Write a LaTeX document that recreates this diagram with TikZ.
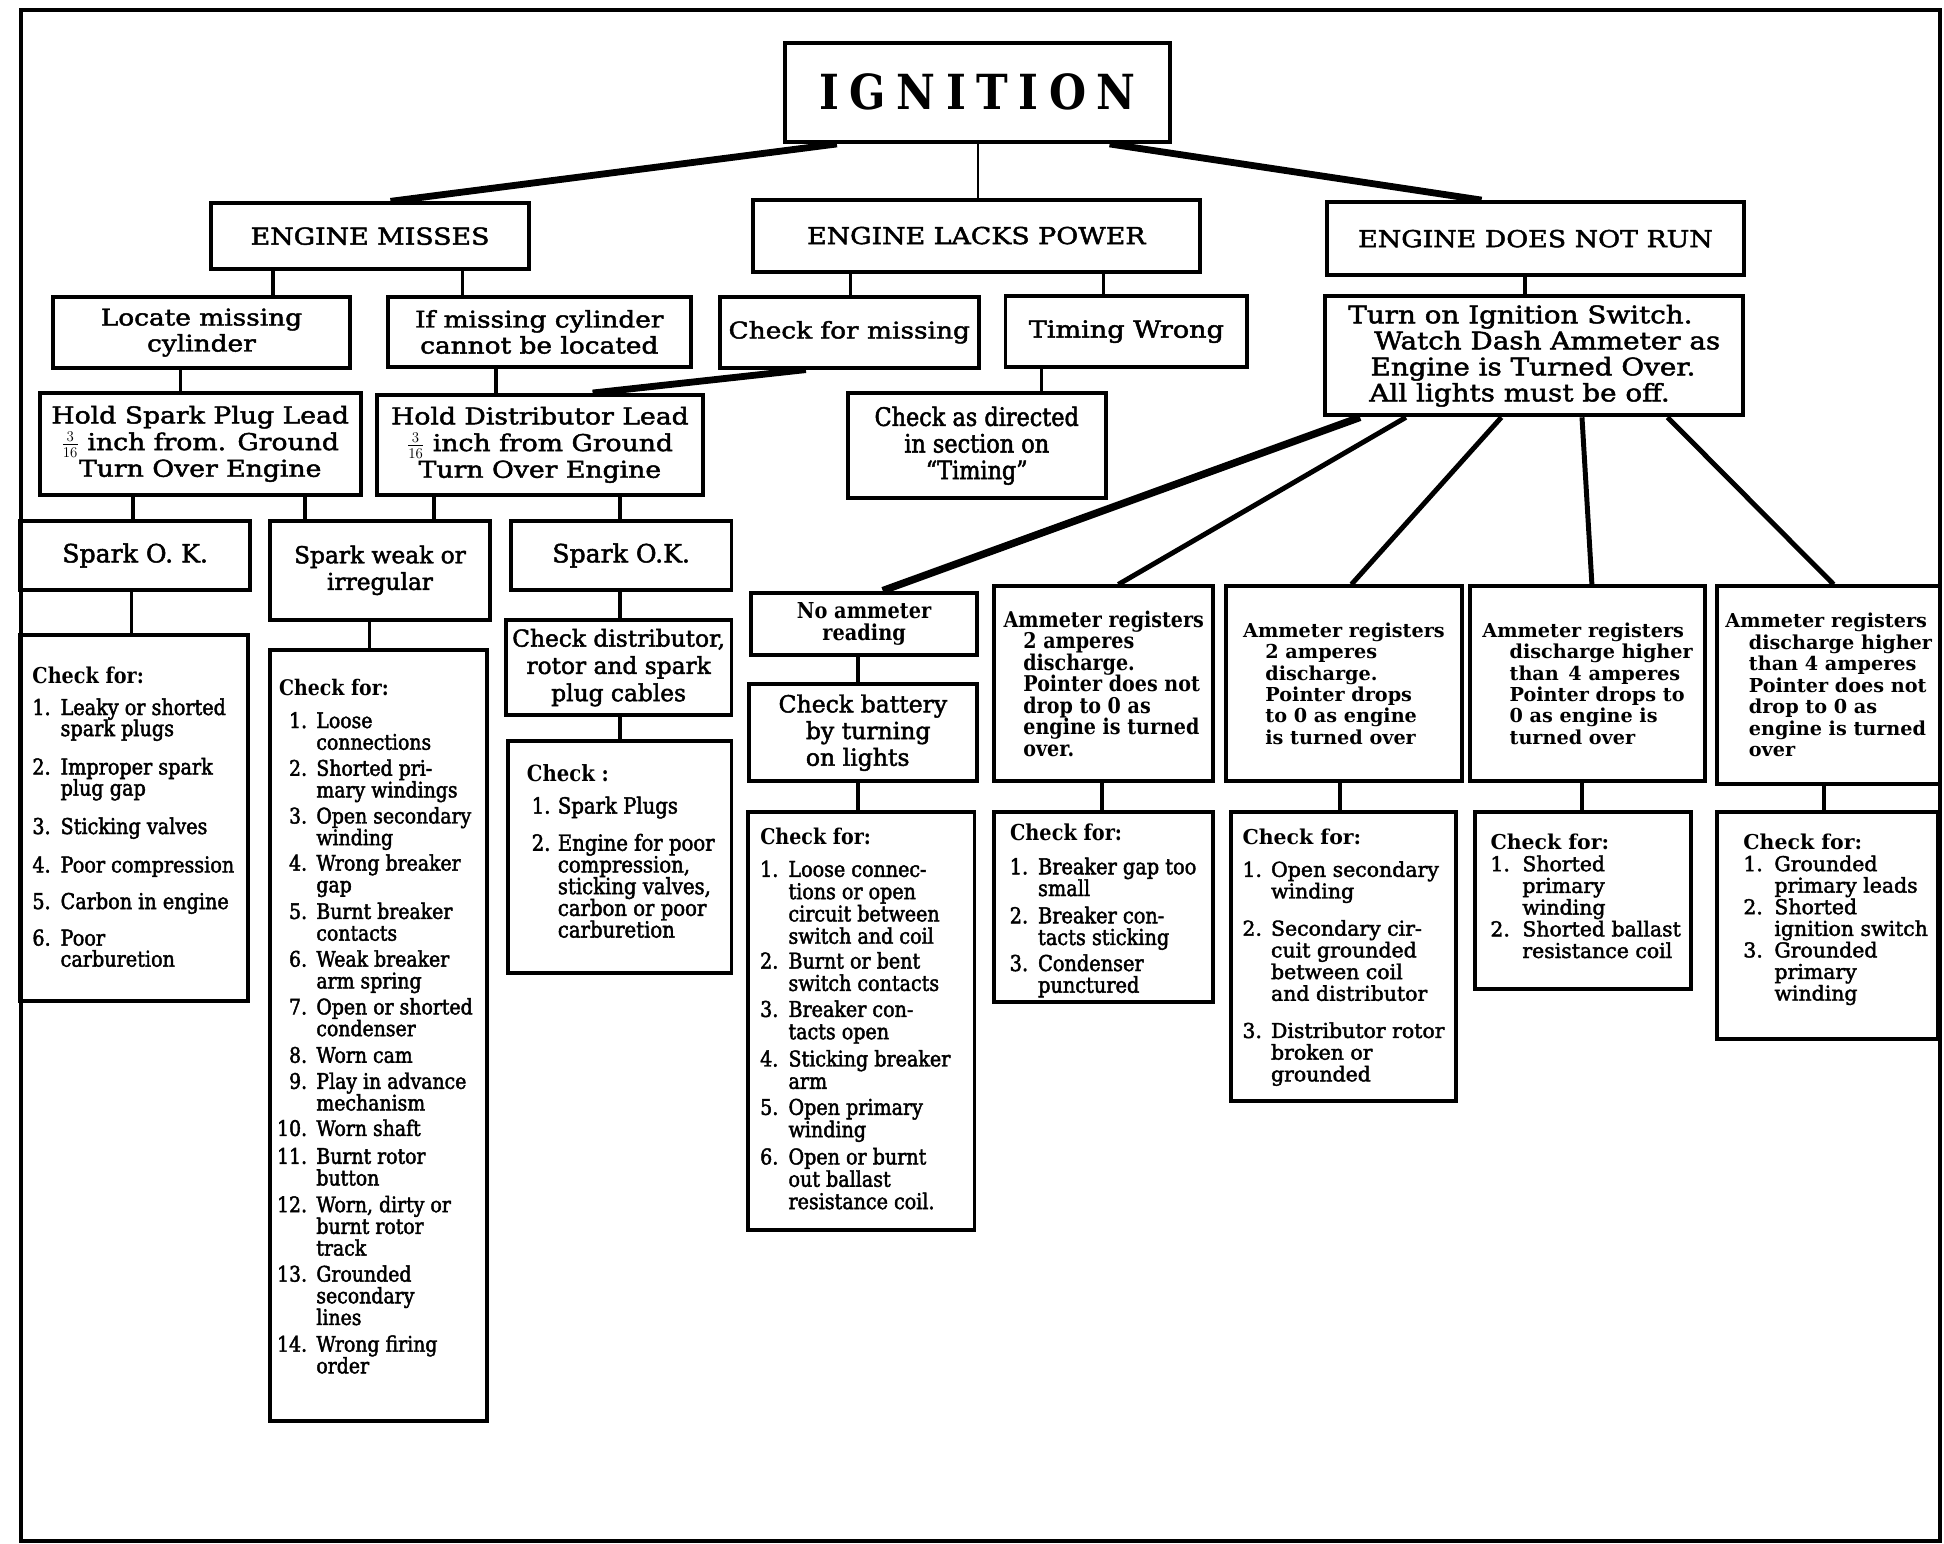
\documentclass[tikz,border=0pt]{standalone}
\usepackage{fontspec}
\setmainfont{DejaVu Serif}
\newfontfamily\fN[FakeStretch=0.88,UprightFeatures={FakeBold=2}]{DejaVu Serif}
\newfontfamily\fM[UprightFeatures={FakeBold=2}]{DejaVu Serif}
\newfontfamily\fW[FakeStretch=1.15,UprightFeatures={FakeBold=2}]{DejaVu Serif}
\newcommand\FS[2]{\fontsize{#1}{#2}\selectfont\lineskiplimit=-100pt\relax}
\newlength\numwd
\newlength\numgap
\newcommand\NN[1]{\makebox[\numwd][r]{#1}\hspace{\numgap}}
\newcommand\Cn{\hspace*{\dimexpr\numwd+\numgap\relax}}
\newcommand\topr{\rule{0pt}{14pt}}
\begin{document}
\begin{tikzpicture}[x=1pt,y=-1pt,
  bx/.style={draw, line width=3.2pt, inner sep=0pt, align=center},
  hd/.style={font=\fW\FS{18.8}{22}},
  lst/.style={anchor=north west, inner sep=0pt, align=left},
  cn/.style={line width=3pt},
  cnthick/.style={line width=5.5pt},
  cnthin/.style={line width=1.6pt}]
\fill[white] (0,0) rectangle (1568,1245);
\useasboundingbox (0,0) rectangle (1568,1245);
\draw[line width=3pt] (17,8) rectangle (1565,1243);

% ---------- level 0
\node[bx, minimum width=311pt, minimum height=80pt, font=\fN\bfseries\FS{39}{40}] (ign) at (788.5,74.5)
  {I\hspace{8.5pt}G\hspace{8.5pt}N\hspace{8.5pt}I\hspace{8.5pt}T\hspace{8.5pt}I\hspace{8.5pt}O\hspace{8.5pt}N};

% ---------- level 1
\node[bx, hd, minimum width=256pt, minimum height=53pt] (em) at (298.5,190.5) {ENGINE MISSES};
\node[bx, hd, minimum width=361pt, minimum height=58pt] (elp) at (787.5,190) {ENGINE LACKS POWER};
\node[bx, hd, minimum width=337pt, minimum height=59pt] (ednr) at (1238.5,192.5) {ENGINE DOES NOT RUN};

% ---------- level 2
\node[bx, minimum width=239pt, minimum height=57.5pt, font=\fW\FS{18.5}{21}] (loc) at (162.5,268.25) {Locate missing\\cylinder};
\node[bx, minimum width=244pt, minimum height=56.5pt, font=\fW\FS{18.5}{21}] (ifm) at (435,267.75) {If missing cylinder\\cannot be located};
\node[bx, minimum width=209pt, minimum height=57pt, font=\fW\FS{18.5}{21}] (cfm) at (685,268) {Check for missing};
\node[bx, minimum width=195pt, minimum height=57pt, font=\fW\FS{19}{21}] (tw) at (908.5,267.5) {Timing Wrong};
\node[bx, minimum width=337pt, minimum height=96pt, align=left, font=\fW\FS{19.5}{21}] (ton) at (1237.5,287)
  {Turn on Ignition Switch.\\
   \hspace*{21pt}Watch Dash Ammeter as\\
   \hspace*{18pt}Engine is Turned Over.\\
   \hspace*{17pt}All lights must be off.};

% ---------- level 3
\node[bx, minimum width=259pt, minimum height=82pt, font=\fW\FS{18.7}{21.5}] (hsp) at (161.5,358)
  {Hold Spark Plug Lead\\$\frac{3}{16}$ inch from. Ground\\Turn Over Engine};
\node[bx, minimum width=263pt, minimum height=80.4pt, font=\fW\FS{18.7}{21.5}] (hdl) at (435.5,358.8)
  {Hold Distributor Lead\\$\frac{3}{16}$ inch from Ground\\Turn Over Engine};
\node[bx, minimum width=208.4pt, minimum height=85pt, font=\fN\FS{20.5}{21.5}] (cad) at (787.8,359.5)
  {Check as directed\\in section on\\“Timing”};

% ---------- level 4 (left)
\node[bx, minimum width=186pt, minimum height=56pt, font=\fM\FS{20.3}{22}] (sok1) at (109,448) {Spark O. K.};
\node[bx, minimum width=177pt, minimum height=80pt, font=\fM\FS{18.8}{21.5}] (swi) at (306.5,460) {Spark weak or\\irregular};
\node[bx, minimum width=178pt, minimum height=56pt, font=\fM\FS{20.3}{22}] (sok2) at (501,448) {Spark O.K.};
\node[bx, minimum width=182pt, minimum height=77pt, font=\fM\FS{18.8}{22}] (cdr) at (499,538.5)
  {Check distributor,\\rotor and spark\\plug cables};

% list boxes (left)
\node[bx, minimum width=184pt, minimum height=295pt] (chk1) at (108,659.5) {};
\node[bx, minimum width=175pt, minimum height=622pt] (chk2) at (305.5,835) {};
\node[bx, minimum width=180pt, minimum height=187pt] (chk3) at (500,691.5) {};

\node[lst, font={\fN\FS{17.6}{17}\setlength\numwd{14.7pt}\setlength\numgap{8pt}}] (chk1t) at (26,537)
  {\topr\textbf{Check for:}\\[8.5pt]
   \NN{1.}Leaky or shorted\\ \Cn spark plugs\\[14pt]
   \NN{2.}Improper spark\\ \Cn plug gap\\[14pt]
   \NN{3.}Sticking valves\\[14pt]
   \NN{4.}Poor compression\\[12.5pt]
   \NN{5.}Carbon in engine\\[12.5pt]
   \NN{6.}Poor\\ \Cn carburetion};

\node[lst, font={\fN\FS{17.3}{17.5}\setlength\numwd{25pt}\setlength\numgap{7.5pt}}] (chk2t) at (222.5,547)
  {\topr\hspace*{2.5pt}\textbf{Check for:}\\[8.5pt]
   \NN{1.}Loose\\ \Cn connections\\[3.5pt]
   \NN{2.}Shorted pri-\\ \Cn mary windings\\[3.5pt]
   \NN{3.}Open secondary\\ \Cn winding\\[3pt]
   \NN{4.}Wrong breaker\\ \Cn gap\\[4pt]
   \NN{5.}Burnt breaker\\ \Cn contacts\\[3.5pt]
   \NN{6.}Weak breaker\\ \Cn arm spring\\[3.5pt]
   \NN{7.}Open or shorted\\ \Cn condenser\\[4pt]
   \NN{8.}Worn cam\\[3.5pt]
   \NN{9.}Play in advance\\ \Cn mechanism\\[3pt]
   \NN{10.}Worn shaft\\[5pt]
   \NN{11.}Burnt rotor\\ \Cn button\\[4pt]
   \NN{12.}Worn, dirty or\\ \Cn burnt rotor\\ \Cn track\\[3.5pt]
   \NN{13.}Grounded\\ \Cn secondary\\ \Cn lines\\[4pt]
   \NN{14.}Wrong firing\\ \Cn order};

\node[lst, font={\fN\FS{18}{17.5}\setlength\numwd{15pt}\setlength\numgap{6pt}}] (chk3t) at (428.8,616)
  {\topr\hspace*{-4pt}\textbf{Check :}\\[8.5pt]
   \NN{1.}Spark Plugs\\[12.5pt]
   \NN{2.}Engine for poor\\ \Cn compression,\\ \Cn sticking valves,\\ \Cn carbon or poor\\ \Cn carburetion};

% ---------- right column
\node[bx, minimum width=182pt, minimum height=50pt, font=\fN\bfseries\FS{17.7}{18}] (nar) at (697,503) {No ammeter\\reading};
\node[bx, minimum width=184pt, minimum height=78pt, align=left, font=\fM\FS{19}{21.5}] (cbt) at (696,591)
  {Check battery\\ \hspace*{22pt}by turning\\ \hspace*{22pt}on lights};
\node[bx, minimum width=182.5pt, minimum height=337pt] (chk4) at (694.75,823.5) {};

\node[bx, minimum width=176.5pt, minimum height=157pt, align=left, font=\fN\bfseries\FS{17.5}{17.3}] (a1) at (890.25,551.5)
  {Ammeter registers\\ \hspace*{16pt}2 amperes\\ \hspace*{16pt}discharge.\\ \hspace*{16pt}Pointer does not\\
   \hspace*{16pt}drop to 0 as\\ \hspace*{16pt}engine is turned\\ \hspace*{16pt}over.};
\node[bx, minimum width=176.5pt, minimum height=153pt] (chk5) at (890.25,731.5) {};

\node[bx, minimum width=190pt, minimum height=157pt, align=left, font=\fM\bfseries\FS{15.5}{17.2}] (a2) at (1084,551.5)
  {Ammeter registers\\ \hspace*{18pt}2 amperes\\ \hspace*{18pt}discharge.\\ \hspace*{18pt}Pointer drops\\
   \hspace*{18pt}to 0 as engine\\ \hspace*{18pt}is turned over};
\node[bx, minimum width=181pt, minimum height=233pt] (chk6) at (1083.5,771.5) {};

\node[bx, minimum width=189pt, minimum height=157pt, align=left, font=\fM\bfseries\FS{15.5}{17.2}] (a3) at (1280.5,551.5)
  {Ammeter registers\\ \hspace*{22pt}discharge higher\\ \hspace*{22pt}than\enspace 4 amperes\\ \hspace*{22pt}Pointer drops to\\
   \hspace*{22pt}0 as engine is\\ \hspace*{22pt}turned over};
\node[bx, minimum width=174pt, minimum height=143pt] (chk7) at (1277,726.5) {};

\node[bx, minimum width=180pt, minimum height=159pt, align=left, font=\fM\bfseries\FS{15.5}{17.3}] (a4) at (1475,552.5)
  {Ammeter registers\\ \hspace*{19pt}discharge higher\\ \hspace*{19pt}than 4 amperes\\ \hspace*{19pt}Pointer does not\\
   \hspace*{19pt}drop to 0 as\\ \hspace*{19pt}engine is turned\\ \hspace*{19pt}over};
\node[bx, minimum width=178pt, minimum height=183pt] (chk8) at (1474,746.5) {};

\node[lst, font={\fN\FS{17.5}{18}\setlength\numwd{14.6pt}\setlength\numgap{8.2pt}}] (chk4t) at (613,667)
  {\topr\textbf{Check for:}\\[8pt]
   \NN{1.}Loose connec-\\ \Cn tions or open\\ \Cn circuit between\\ \Cn switch and coil\\[2pt]
   \NN{2.}Burnt or bent\\ \Cn switch contacts\\[3pt]
   \NN{3.}Breaker con-\\ \Cn tacts open\\[4pt]
   \NN{4.}Sticking breaker\\ \Cn arm\\[3pt]
   \NN{5.}Open primary\\ \Cn winding\\[4pt]
   \NN{6.}Open or burnt\\ \Cn out ballast\\ \Cn resistance coil.};

\node[lst, font={\fN\FS{17.7}{17.5}\setlength\numwd{14.6pt}\setlength\numgap{8pt}}] (chk5t) at (814.5,664)
  {\topr\textbf{Check for:}\\[9.5pt]
   \NN{1.}Breaker gap too\\ \Cn small\\[4.5pt]
   \NN{2.}Breaker con-\\ \Cn tacts sticking\\[3.5pt]
   \NN{3.}Condenser\\ \Cn punctured};

\node[lst, font={\fM\FS{16.5}{17.5}\setlength\numwd{15.7pt}\setlength\numgap{7.3pt}}] (chk6t) at (1002,667)
  {\topr\textbf{Check for:}\\[8.5pt]
   \NN{1.}Open secondary\\ \Cn winding\\[12.5pt]
   \NN{2.}Secondary cir-\\ \Cn cuit grounded\\ \Cn between coil\\ \Cn and distributor\\[12.5pt]
   \NN{3.}Distributor rotor\\ \Cn broken or\\ \Cn grounded};

\node[lst, font={\fM\FS{16.5}{17.5}\setlength\numwd{15.7pt}\setlength\numgap{10pt}}] (chk7t) at (1202,671)
  {\topr\textbf{Check for:}\\
   \NN{1.}Shorted\\ \Cn primary\\ \Cn winding\\
   \NN{2.}Shorted ballast\\ \Cn resistance coil};

\node[lst, font={\fM\FS{16.5}{17.4}\setlength\numwd{15.7pt}\setlength\numgap{9.3pt}}] (chk8t) at (1406,671)
  {\topr\textbf{Check for:}\\
   \NN{1.}Grounded\\ \Cn primary leads\\
   \NN{2.}Shorted\\ \Cn ignition switch\\
   \NN{3.}Grounded\\ \Cn primary\\ \Cn winding};

% ---------- connectors
\draw[cnthick] (ign.south -| 675,0) -- (em.north -| 315,0);
\draw[cnthin] (ign.south -| 789,0) -- (elp.north -| 789,0);
\draw[cnthick] (ign.south -| 895,0) -- (ednr.north -| 1195,0);
\draw[cn] (em.south -| 220,0) -- (loc.north -| 220,0);
\draw[cn] (em.south -| 373,0) -- (ifm.north -| 373,0);
\draw[cn] (elp.south -| 686,0) -- (cfm.north -| 686,0);
\draw[cn] (elp.south -| 890,0) -- (tw.north -| 890,0);
\draw[cn] (ednr.south -| 1230,0) -- (ton.north -| 1230,0);
\draw[cn] (loc.south -| 145.5,0) -- (hsp.north -| 145.5,0);
\draw[cn] (ifm.south -| 400,0) -- (hdl.north -| 400,0);
\draw[cnthick] (cfm.south -| 650,0) -- (hdl.north -| 478,0);
\draw[cn] (tw.south -| 840,0) -- (cad.north -| 840,0);
\draw[cn] (hsp.south -| 107,0) -- (sok1.north -| 107,0);
\draw[cn] (hsp.south -| 246,0) -- (swi.north -| 246,0);
\draw[cn] (hdl.south -| 350,0) -- (swi.north -| 350,0);
\draw[cn] (hdl.south -| 500,0) -- (sok2.north -| 500,0);
\draw[cn] (sok1.south -| 106,0) -- (chk1.north -| 106,0);
\draw[cn] (swi.south -| 298,0) -- (chk2.north -| 298,0);
\draw[cn] (sok2.south -| 500,0) -- (cdr.north -| 500,0);
\draw[cn] (cdr.south -| 500,0) -- (chk3.north -| 500,0);
\draw[line width=6pt] (ton.south -| 1097,0) -- (nar.north -| 712,0);
\draw[line width=4pt] (ton.south -| 1134,0) -- (a1.north -| 902,0);
\draw[line width=4pt] (ton.south -| 1211,0) -- (a2.north -| 1090,0);
\draw[line width=4pt] (ton.south -| 1276,0) -- (a3.north -| 1284,0);
\draw[line width=4pt] (ton.south -| 1345,0) -- (a4.north -| 1479,0);
\draw[cn] (nar.south -| 692,0) -- (cbt.north -| 692,0);
\draw[cn] (cbt.south -| 692,0) -- (chk4.north -| 692,0);
\draw[cn] (a1.south -| 889,0) -- (chk5.north -| 889,0);
\draw[cn] (a2.south -| 1081,0) -- (chk6.north -| 1081,0);
\draw[cn] (a3.south -| 1276,0) -- (chk7.north -| 1276,0);
\draw[cn] (a4.south -| 1471,0) -- (chk8.north -| 1471,0);
\end{tikzpicture}
\end{document}
